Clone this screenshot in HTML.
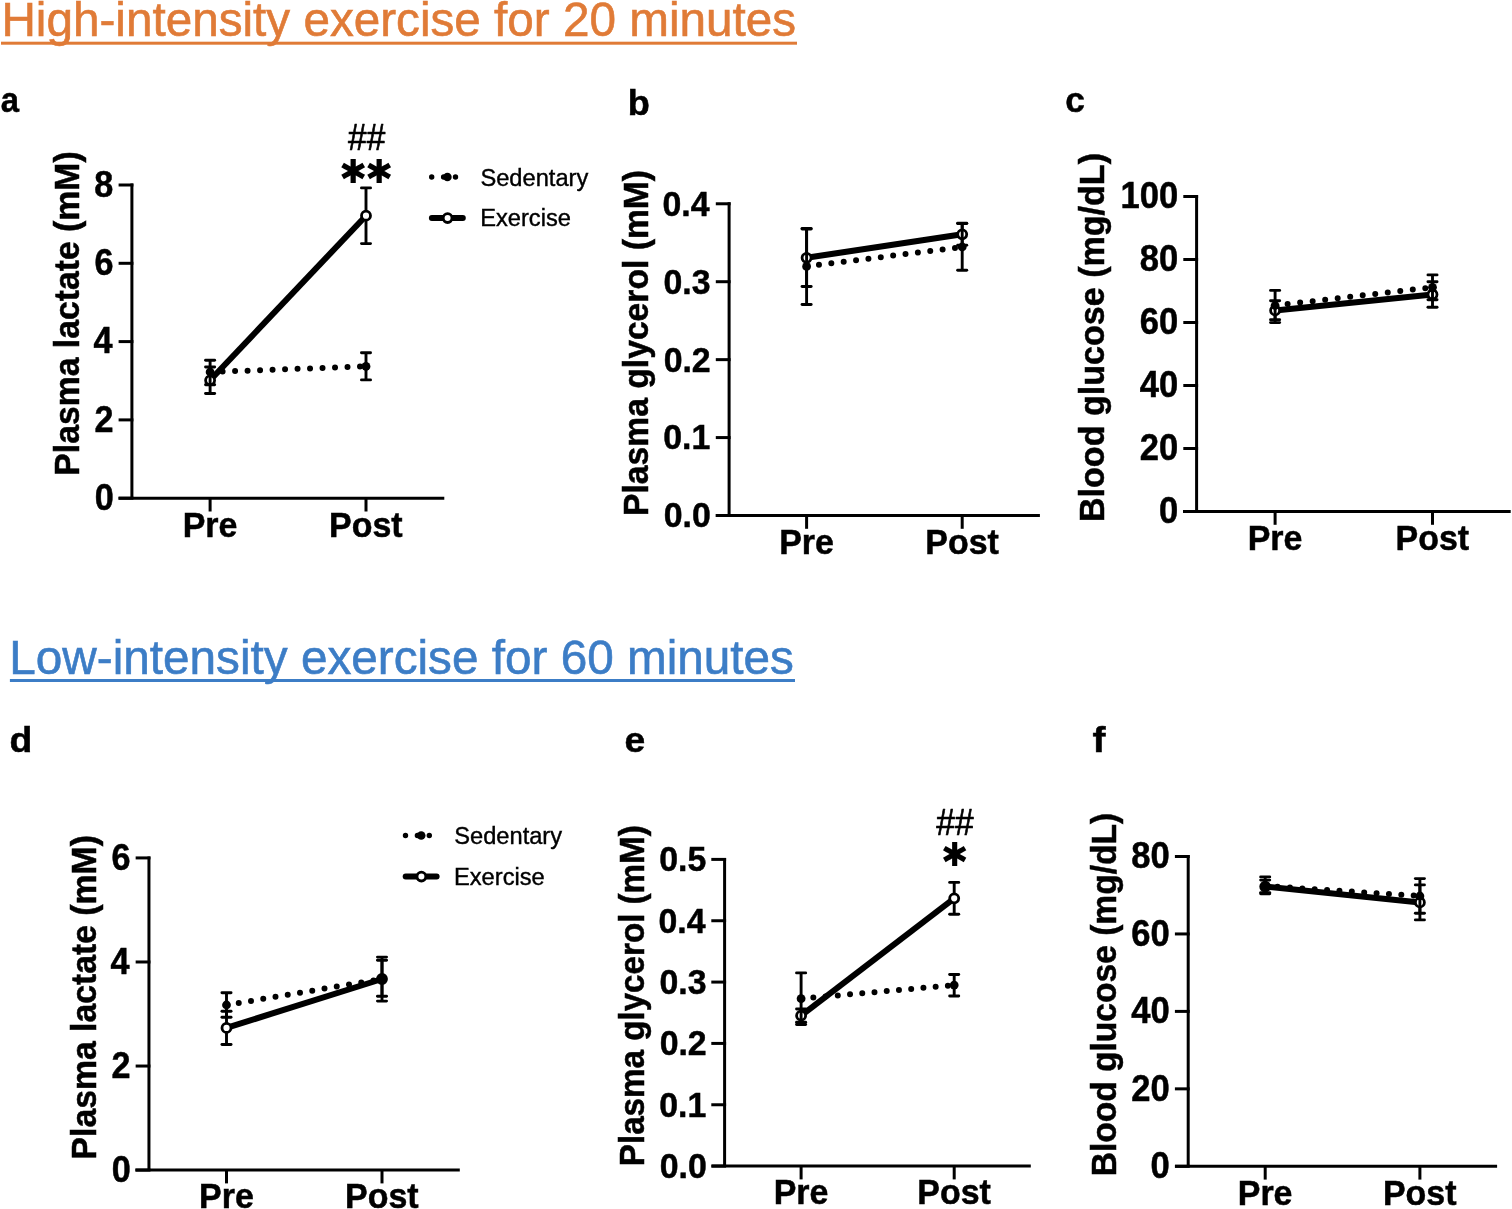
<!DOCTYPE html><html><head><meta charset="utf-8"><title>Exercise figure</title>
<style>html,body{margin:0;padding:0;background:#fff;}svg{display:block;}text{font-family:'Liberation Sans', Arial, Helvetica, sans-serif;}</style></head><body>
<svg width="1512" height="1209" viewBox="0 0 1512 1209">
<rect width="1512" height="1209" fill="#fff"/>
<text transform="translate(1.39 36) scale(0.9811 1)" font-size="48.6" font-weight="normal" fill="#E07B37" stroke="#E07B37" stroke-width="0.6">High-intensity exercise for 20 minutes</text>
<rect x="1" y="41.7" width="796" height="3" fill="#E07B37"/>
<text transform="translate(9.29 674) scale(0.9817 1)" font-size="48.6" font-weight="normal" fill="#3C7DC6" stroke="#3C7DC6" stroke-width="0.6">Low-intensity exercise for 60 minutes</text>
<rect x="9.9" y="679" width="785.1" height="3" fill="#3C7DC6"/>
<line x1="131.9" y1="183.5" x2="131.9" y2="498.2" stroke="#000" stroke-width="3" stroke-linecap="butt" />
<line x1="118.6" y1="498.2" x2="133.4" y2="498.2" stroke="#000" stroke-width="3" stroke-linecap="butt" />
<text transform="translate(94.63 510.09) scale(0.9500 1)" font-size="36" font-weight="bold" fill="#000" stroke="#000" stroke-width="0.5">0</text>
<line x1="118.6" y1="419.9" x2="133.4" y2="419.9" stroke="#000" stroke-width="3" stroke-linecap="butt" />
<text transform="translate(94.6 431.79) scale(0.9500 1)" font-size="36" font-weight="bold" fill="#000" stroke="#000" stroke-width="0.5">2</text>
<line x1="118.6" y1="341.6" x2="133.4" y2="341.6" stroke="#000" stroke-width="3" stroke-linecap="butt" />
<text transform="translate(93.41 353.49) scale(0.9500 1)" font-size="36" font-weight="bold" fill="#000" stroke="#000" stroke-width="0.5">4</text>
<line x1="118.6" y1="263.3" x2="133.4" y2="263.3" stroke="#000" stroke-width="3" stroke-linecap="butt" />
<text transform="translate(94.47 275.19) scale(0.9500 1)" font-size="36" font-weight="bold" fill="#000" stroke="#000" stroke-width="0.5">6</text>
<line x1="118.6" y1="185" x2="133.4" y2="185" stroke="#000" stroke-width="3" stroke-linecap="butt" />
<text transform="translate(94.28 196.89) scale(0.9500 1)" font-size="36" font-weight="bold" fill="#000" stroke="#000" stroke-width="0.5">8</text>
<line x1="118.5" y1="498.2" x2="444.3" y2="498.2" stroke="#000" stroke-width="3" stroke-linecap="butt" />
<line x1="210.1" y1="498.2" x2="210.1" y2="511.5" stroke="#000" stroke-width="3" stroke-linecap="butt" />
<line x1="366" y1="498.2" x2="366" y2="511.5" stroke="#000" stroke-width="3" stroke-linecap="butt" />
<text transform="translate(182.67 536.55) scale(0.9900 1)" font-size="34.3" font-weight="bold" fill="#000" stroke="#000" stroke-width="0.5">Pre</text>
<text transform="translate(329.08 536.55) scale(0.9900 1)" font-size="34.3" font-weight="bold" fill="#000" stroke="#000" stroke-width="0.5">Post</text>
<text transform="translate(78.95 475.71) rotate(-90) scale(0.9623 1)" font-size="35.08" font-weight="bold" stroke="#000" stroke-width="0.5">Plasma lactate (mM)</text>
<text transform="translate(0.79 111.75) scale(0.9296 1)" font-size="35.31" font-weight="bold" fill="#000" stroke="#000" stroke-width="0.5">a</text>
<line x1="210.1" y1="367" x2="210.1" y2="393.5" stroke="#000" stroke-width="2.9" stroke-linecap="butt" />
<line x1="205.55" y1="367" x2="214.65" y2="367" stroke="#000" stroke-width="2.9" stroke-linecap="round" />
<line x1="205.55" y1="393.5" x2="214.65" y2="393.5" stroke="#000" stroke-width="2.9" stroke-linecap="round" />
<line x1="366" y1="187.9" x2="366" y2="243.6" stroke="#000" stroke-width="2.9" stroke-linecap="butt" />
<line x1="361.45" y1="187.9" x2="370.55" y2="187.9" stroke="#000" stroke-width="2.9" stroke-linecap="round" />
<line x1="361.45" y1="243.6" x2="370.55" y2="243.6" stroke="#000" stroke-width="2.9" stroke-linecap="round" />
<line x1="210.1" y1="380.3" x2="366" y2="215.7" stroke="#000" stroke-width="6" stroke-linecap="butt" />
<circle cx="210.1" cy="380.3" r="4.5" fill="#fff" stroke="#000" stroke-width="2.8"/>
<circle cx="366" cy="215.7" r="4.5" fill="#fff" stroke="#000" stroke-width="2.8"/>
<line x1="210.1" y1="360.3" x2="210.1" y2="384.8" stroke="#000" stroke-width="2.9" stroke-linecap="butt" />
<line x1="205.55" y1="360.3" x2="214.65" y2="360.3" stroke="#000" stroke-width="2.9" stroke-linecap="round" />
<line x1="205.55" y1="384.8" x2="214.65" y2="384.8" stroke="#000" stroke-width="2.9" stroke-linecap="round" />
<line x1="366" y1="352.8" x2="366" y2="379.9" stroke="#000" stroke-width="2.9" stroke-linecap="butt" />
<line x1="361.45" y1="352.8" x2="370.55" y2="352.8" stroke="#000" stroke-width="2.9" stroke-linecap="round" />
<line x1="361.45" y1="379.9" x2="370.55" y2="379.9" stroke="#000" stroke-width="2.9" stroke-linecap="round" />
<line x1="210.1" y1="372" x2="366" y2="366.4" stroke="#000" stroke-width="6.0" stroke-linecap="round" stroke-dasharray="0 12.5"/>
<circle cx="210.1" cy="372" r="4.4" fill="#000"/>
<circle cx="366" cy="366.4" r="4.4" fill="#000"/>
<line x1="729.1" y1="202.3" x2="729.1" y2="515.5" stroke="#000" stroke-width="3" stroke-linecap="butt" />
<line x1="715.8" y1="515.5" x2="730.6" y2="515.5" stroke="#000" stroke-width="3" stroke-linecap="butt" />
<text transform="translate(663.7 527.39) scale(0.9400 1)" font-size="36" font-weight="bold" fill="#000" stroke="#000" stroke-width="0.5">0.0</text>
<line x1="715.8" y1="437.57" x2="730.6" y2="437.57" stroke="#000" stroke-width="3" stroke-linecap="butt" />
<text transform="translate(663.25 449.46) scale(0.9400 1)" font-size="36" font-weight="bold" fill="#000" stroke="#000" stroke-width="0.5">0.1</text>
<line x1="715.8" y1="359.64" x2="730.6" y2="359.64" stroke="#000" stroke-width="3" stroke-linecap="butt" />
<text transform="translate(663.66 371.53) scale(0.9400 1)" font-size="36" font-weight="bold" fill="#000" stroke="#000" stroke-width="0.5">0.2</text>
<line x1="715.8" y1="281.71" x2="730.6" y2="281.71" stroke="#000" stroke-width="3" stroke-linecap="butt" />
<text transform="translate(663.53 293.6) scale(0.9400 1)" font-size="36" font-weight="bold" fill="#000" stroke="#000" stroke-width="0.5">0.3</text>
<line x1="715.8" y1="203.78" x2="730.6" y2="203.78" stroke="#000" stroke-width="3" stroke-linecap="butt" />
<text transform="translate(662.49 215.67) scale(0.9400 1)" font-size="36" font-weight="bold" fill="#000" stroke="#000" stroke-width="0.5">0.4</text>
<line x1="715.8" y1="515.5" x2="1039.9" y2="515.5" stroke="#000" stroke-width="3" stroke-linecap="butt" />
<line x1="806.6" y1="515.5" x2="806.6" y2="528.8" stroke="#000" stroke-width="3" stroke-linecap="butt" />
<line x1="962.2" y1="515.5" x2="962.2" y2="528.8" stroke="#000" stroke-width="3" stroke-linecap="butt" />
<text transform="translate(779.17 553.85) scale(0.9900 1)" font-size="34.3" font-weight="bold" fill="#000" stroke="#000" stroke-width="0.5">Pre</text>
<text transform="translate(925.28 553.85) scale(0.9900 1)" font-size="34.3" font-weight="bold" fill="#000" stroke="#000" stroke-width="0.5">Post</text>
<text transform="translate(647.65 516) rotate(-90) scale(0.9656 1)" font-size="34.88" font-weight="bold" stroke="#000" stroke-width="0.5">Plasma glycerol (mM)</text>
<text transform="translate(627.67 114.55) scale(1.0467 1)" font-size="34.51" font-weight="bold" fill="#000" stroke="#000" stroke-width="0.5">b</text>
<line x1="806.6" y1="229.1" x2="806.6" y2="286.5" stroke="#000" stroke-width="2.9" stroke-linecap="butt" />
<line x1="802.05" y1="229.1" x2="811.15" y2="229.1" stroke="#000" stroke-width="2.9" stroke-linecap="round" />
<line x1="802.05" y1="286.5" x2="811.15" y2="286.5" stroke="#000" stroke-width="2.9" stroke-linecap="round" />
<line x1="962.2" y1="223.3" x2="962.2" y2="245.3" stroke="#000" stroke-width="2.9" stroke-linecap="butt" />
<line x1="957.65" y1="223.3" x2="966.75" y2="223.3" stroke="#000" stroke-width="2.9" stroke-linecap="round" />
<line x1="957.65" y1="245.3" x2="966.75" y2="245.3" stroke="#000" stroke-width="2.9" stroke-linecap="round" />
<line x1="806.6" y1="257.8" x2="962.2" y2="234.3" stroke="#000" stroke-width="6" stroke-linecap="butt" />
<circle cx="806.6" cy="257.8" r="4.5" fill="#fff" stroke="#000" stroke-width="2.8"/>
<circle cx="962.2" cy="234.3" r="4.5" fill="#fff" stroke="#000" stroke-width="2.8"/>
<line x1="806.6" y1="228.4" x2="806.6" y2="304.5" stroke="#000" stroke-width="2.9" stroke-linecap="butt" />
<line x1="802.05" y1="228.4" x2="811.15" y2="228.4" stroke="#000" stroke-width="2.9" stroke-linecap="round" />
<line x1="802.05" y1="304.5" x2="811.15" y2="304.5" stroke="#000" stroke-width="2.9" stroke-linecap="round" />
<line x1="962.2" y1="223.6" x2="962.2" y2="270.3" stroke="#000" stroke-width="2.9" stroke-linecap="butt" />
<line x1="957.65" y1="223.6" x2="966.75" y2="223.6" stroke="#000" stroke-width="2.9" stroke-linecap="round" />
<line x1="957.65" y1="270.3" x2="966.75" y2="270.3" stroke="#000" stroke-width="2.9" stroke-linecap="round" />
<line x1="806.6" y1="266.4" x2="962.2" y2="247" stroke="#000" stroke-width="6.0" stroke-linecap="round" stroke-dasharray="0 12.46"/>
<circle cx="806.6" cy="266.4" r="4.4" fill="#000"/>
<circle cx="962.2" cy="247" r="4.4" fill="#000"/>
<line x1="1196.6" y1="195" x2="1196.6" y2="511.5" stroke="#000" stroke-width="3" stroke-linecap="butt" />
<line x1="1183.3" y1="511.5" x2="1198.1" y2="511.5" stroke="#000" stroke-width="3" stroke-linecap="butt" />
<text transform="translate(1159.05 523.39) scale(0.9600 1)" font-size="36" font-weight="bold" fill="#000" stroke="#000" stroke-width="0.5">0</text>
<line x1="1183.3" y1="448.5" x2="1198.1" y2="448.5" stroke="#000" stroke-width="3" stroke-linecap="butt" />
<text transform="translate(1139.83 460.39) scale(0.9600 1)" font-size="36" font-weight="bold" fill="#000" stroke="#000" stroke-width="0.5">20</text>
<line x1="1183.3" y1="385.5" x2="1198.1" y2="385.5" stroke="#000" stroke-width="3" stroke-linecap="butt" />
<text transform="translate(1139.83 397.39) scale(0.9600 1)" font-size="36" font-weight="bold" fill="#000" stroke="#000" stroke-width="0.5">40</text>
<line x1="1183.3" y1="322.5" x2="1198.1" y2="322.5" stroke="#000" stroke-width="3" stroke-linecap="butt" />
<text transform="translate(1139.83 334.39) scale(0.9600 1)" font-size="36" font-weight="bold" fill="#000" stroke="#000" stroke-width="0.5">60</text>
<line x1="1183.3" y1="259.5" x2="1198.1" y2="259.5" stroke="#000" stroke-width="3" stroke-linecap="butt" />
<text transform="translate(1139.83 271.39) scale(0.9600 1)" font-size="36" font-weight="bold" fill="#000" stroke="#000" stroke-width="0.5">80</text>
<line x1="1183.3" y1="196.5" x2="1198.1" y2="196.5" stroke="#000" stroke-width="3" stroke-linecap="butt" />
<text transform="translate(1120.61 208.39) scale(0.9600 1)" font-size="36" font-weight="bold" fill="#000" stroke="#000" stroke-width="0.5">100</text>
<line x1="1183" y1="511.5" x2="1510.7" y2="511.5" stroke="#000" stroke-width="3" stroke-linecap="butt" />
<line x1="1275.1" y1="511.5" x2="1275.1" y2="524.8" stroke="#000" stroke-width="3" stroke-linecap="butt" />
<line x1="1432.5" y1="511.5" x2="1432.5" y2="524.8" stroke="#000" stroke-width="3" stroke-linecap="butt" />
<text transform="translate(1247.67 549.85) scale(0.9900 1)" font-size="34.3" font-weight="bold" fill="#000" stroke="#000" stroke-width="0.5">Pre</text>
<text transform="translate(1395.58 549.85) scale(0.9900 1)" font-size="34.3" font-weight="bold" fill="#000" stroke="#000" stroke-width="0.5">Post</text>
<text transform="translate(1104.25 522.03) rotate(-90) scale(0.9686 1)" font-size="35.18" font-weight="bold" stroke="#000" stroke-width="0.5">Blood glucose (mg/dL)</text>
<text transform="translate(1065.27 111.55) scale(0.9987 1)" font-size="35.31" font-weight="bold" fill="#000" stroke="#000" stroke-width="0.5">c</text>
<line x1="1275.1" y1="300.8" x2="1275.1" y2="322.6" stroke="#000" stroke-width="2.9" stroke-linecap="butt" />
<line x1="1270.55" y1="300.8" x2="1279.65" y2="300.8" stroke="#000" stroke-width="2.9" stroke-linecap="round" />
<line x1="1270.55" y1="322.6" x2="1279.65" y2="322.6" stroke="#000" stroke-width="2.9" stroke-linecap="round" />
<line x1="1432.5" y1="281.8" x2="1432.5" y2="307.3" stroke="#000" stroke-width="2.9" stroke-linecap="butt" />
<line x1="1427.95" y1="281.8" x2="1437.05" y2="281.8" stroke="#000" stroke-width="2.9" stroke-linecap="round" />
<line x1="1427.95" y1="307.3" x2="1437.05" y2="307.3" stroke="#000" stroke-width="2.9" stroke-linecap="round" />
<line x1="1275.1" y1="310.4" x2="1432.5" y2="294.5" stroke="#000" stroke-width="6" stroke-linecap="butt" />
<circle cx="1275.1" cy="310.4" r="4.5" fill="#fff" stroke="#000" stroke-width="2.8"/>
<circle cx="1432.5" cy="294.5" r="4.5" fill="#fff" stroke="#000" stroke-width="2.8"/>
<line x1="1275.1" y1="290.4" x2="1275.1" y2="319.7" stroke="#000" stroke-width="2.9" stroke-linecap="butt" />
<line x1="1270.55" y1="290.4" x2="1279.65" y2="290.4" stroke="#000" stroke-width="2.9" stroke-linecap="round" />
<line x1="1270.55" y1="319.7" x2="1279.65" y2="319.7" stroke="#000" stroke-width="2.9" stroke-linecap="round" />
<line x1="1432.5" y1="274.9" x2="1432.5" y2="299.7" stroke="#000" stroke-width="2.9" stroke-linecap="butt" />
<line x1="1427.95" y1="274.9" x2="1437.05" y2="274.9" stroke="#000" stroke-width="2.9" stroke-linecap="round" />
<line x1="1427.95" y1="299.7" x2="1437.05" y2="299.7" stroke="#000" stroke-width="2.9" stroke-linecap="round" />
<line x1="1275.1" y1="305.5" x2="1432.5" y2="287.3" stroke="#000" stroke-width="6.0" stroke-linecap="round" stroke-dasharray="0 12.6"/>
<circle cx="1275.1" cy="305.5" r="4.4" fill="#000"/>
<circle cx="1432.5" cy="287.3" r="4.4" fill="#000"/>
<line x1="148.95" y1="856.4" x2="148.95" y2="1170.1" stroke="#000" stroke-width="3" stroke-linecap="butt" />
<line x1="135.65" y1="1170.1" x2="150.45" y2="1170.1" stroke="#000" stroke-width="3" stroke-linecap="butt" />
<text transform="translate(111.63 1181.99) scale(0.9500 1)" font-size="36" font-weight="bold" fill="#000" stroke="#000" stroke-width="0.5">0</text>
<line x1="135.65" y1="1066.04" x2="150.45" y2="1066.04" stroke="#000" stroke-width="3" stroke-linecap="butt" />
<text transform="translate(111.6 1077.93) scale(0.9500 1)" font-size="36" font-weight="bold" fill="#000" stroke="#000" stroke-width="0.5">2</text>
<line x1="135.65" y1="961.98" x2="150.45" y2="961.98" stroke="#000" stroke-width="3" stroke-linecap="butt" />
<text transform="translate(110.41 973.87) scale(0.9500 1)" font-size="36" font-weight="bold" fill="#000" stroke="#000" stroke-width="0.5">4</text>
<line x1="135.65" y1="857.92" x2="150.45" y2="857.92" stroke="#000" stroke-width="3" stroke-linecap="butt" />
<text transform="translate(111.47 869.81) scale(0.9500 1)" font-size="36" font-weight="bold" fill="#000" stroke="#000" stroke-width="0.5">6</text>
<line x1="135.3" y1="1170.1" x2="459.8" y2="1170.1" stroke="#000" stroke-width="3" stroke-linecap="butt" />
<line x1="226.5" y1="1170.1" x2="226.5" y2="1183.4" stroke="#000" stroke-width="3" stroke-linecap="butt" />
<line x1="382" y1="1170.1" x2="382" y2="1183.4" stroke="#000" stroke-width="3" stroke-linecap="butt" />
<text transform="translate(199.07 1208.45) scale(0.9900 1)" font-size="34.3" font-weight="bold" fill="#000" stroke="#000" stroke-width="0.5">Pre</text>
<text transform="translate(345.08 1208.45) scale(0.9900 1)" font-size="34.3" font-weight="bold" fill="#000" stroke="#000" stroke-width="0.5">Post</text>
<text transform="translate(96.35 1159.41) rotate(-90) scale(0.9617 1)" font-size="35.08" font-weight="bold" stroke="#000" stroke-width="0.5">Plasma lactate (mM)</text>
<text transform="translate(9.62 751.75) scale(1.0567 1)" font-size="35.31" font-weight="bold" fill="#000" stroke="#000" stroke-width="0.5">d</text>
<line x1="226.5" y1="1011.3" x2="226.5" y2="1044.5" stroke="#000" stroke-width="2.9" stroke-linecap="butt" />
<line x1="221.95" y1="1011.3" x2="231.05" y2="1011.3" stroke="#000" stroke-width="2.9" stroke-linecap="round" />
<line x1="221.95" y1="1044.5" x2="231.05" y2="1044.5" stroke="#000" stroke-width="2.9" stroke-linecap="round" />
<line x1="382" y1="960.3" x2="382" y2="996.2" stroke="#000" stroke-width="2.9" stroke-linecap="butt" />
<line x1="377.45" y1="960.3" x2="386.55" y2="960.3" stroke="#000" stroke-width="2.9" stroke-linecap="round" />
<line x1="377.45" y1="996.2" x2="386.55" y2="996.2" stroke="#000" stroke-width="2.9" stroke-linecap="round" />
<line x1="226.5" y1="1027.9" x2="382" y2="979" stroke="#000" stroke-width="6" stroke-linecap="butt" />
<circle cx="226.5" cy="1027.9" r="4.5" fill="#fff" stroke="#000" stroke-width="2.8"/>
<circle cx="382" cy="979" r="4.5" fill="#fff" stroke="#000" stroke-width="2.8"/>
<line x1="226.5" y1="992.7" x2="226.5" y2="1017.3" stroke="#000" stroke-width="2.9" stroke-linecap="butt" />
<line x1="221.95" y1="992.7" x2="231.05" y2="992.7" stroke="#000" stroke-width="2.9" stroke-linecap="round" />
<line x1="221.95" y1="1017.3" x2="231.05" y2="1017.3" stroke="#000" stroke-width="2.9" stroke-linecap="round" />
<line x1="382" y1="957.1" x2="382" y2="1001.1" stroke="#000" stroke-width="2.9" stroke-linecap="butt" />
<line x1="377.45" y1="957.1" x2="386.55" y2="957.1" stroke="#000" stroke-width="2.9" stroke-linecap="round" />
<line x1="377.45" y1="1001.1" x2="386.55" y2="1001.1" stroke="#000" stroke-width="2.9" stroke-linecap="round" />
<line x1="226.5" y1="1005" x2="382" y2="979" stroke="#000" stroke-width="6.0" stroke-linecap="round" stroke-dasharray="0 12.42"/>
<circle cx="226.5" cy="1005" r="4.4" fill="#000"/>
<circle cx="382" cy="979" r="4.4" fill="#000"/>
<line x1="724.6" y1="857.9" x2="724.6" y2="1166.1" stroke="#000" stroke-width="3" stroke-linecap="butt" />
<line x1="711.3" y1="1166.1" x2="726.1" y2="1166.1" stroke="#000" stroke-width="3" stroke-linecap="butt" />
<text transform="translate(659.7 1177.99) scale(0.9400 1)" font-size="36" font-weight="bold" fill="#000" stroke="#000" stroke-width="0.5">0.0</text>
<line x1="711.3" y1="1104.76" x2="726.1" y2="1104.76" stroke="#000" stroke-width="3" stroke-linecap="butt" />
<text transform="translate(659.25 1116.65) scale(0.9400 1)" font-size="36" font-weight="bold" fill="#000" stroke="#000" stroke-width="0.5">0.1</text>
<line x1="711.3" y1="1043.42" x2="726.1" y2="1043.42" stroke="#000" stroke-width="3" stroke-linecap="butt" />
<text transform="translate(659.66 1055.31) scale(0.9400 1)" font-size="36" font-weight="bold" fill="#000" stroke="#000" stroke-width="0.5">0.2</text>
<line x1="711.3" y1="982.08" x2="726.1" y2="982.08" stroke="#000" stroke-width="3" stroke-linecap="butt" />
<text transform="translate(659.53 993.97) scale(0.9400 1)" font-size="36" font-weight="bold" fill="#000" stroke="#000" stroke-width="0.5">0.3</text>
<line x1="711.3" y1="920.74" x2="726.1" y2="920.74" stroke="#000" stroke-width="3" stroke-linecap="butt" />
<text transform="translate(658.49 932.63) scale(0.9400 1)" font-size="36" font-weight="bold" fill="#000" stroke="#000" stroke-width="0.5">0.4</text>
<line x1="711.3" y1="859.4" x2="726.1" y2="859.4" stroke="#000" stroke-width="3" stroke-linecap="butt" />
<text transform="translate(659.25 871.29) scale(0.9400 1)" font-size="36" font-weight="bold" fill="#000" stroke="#000" stroke-width="0.5">0.5</text>
<line x1="711.6" y1="1166.1" x2="1030.8" y2="1166.1" stroke="#000" stroke-width="3" stroke-linecap="butt" />
<line x1="801.1" y1="1166.1" x2="801.1" y2="1179.4" stroke="#000" stroke-width="3" stroke-linecap="butt" />
<line x1="954.2" y1="1166.1" x2="954.2" y2="1179.4" stroke="#000" stroke-width="3" stroke-linecap="butt" />
<text transform="translate(773.67 1204.45) scale(0.9900 1)" font-size="34.3" font-weight="bold" fill="#000" stroke="#000" stroke-width="0.5">Pre</text>
<text transform="translate(917.28 1204.45) scale(0.9900 1)" font-size="34.3" font-weight="bold" fill="#000" stroke="#000" stroke-width="0.5">Post</text>
<text transform="translate(644.15 1166.17) rotate(-90) scale(0.9540 1)" font-size="34.78" font-weight="bold" stroke="#000" stroke-width="0.5">Plasma glycerol (mM)</text>
<text transform="translate(624.59 751.65) scale(1.0558 1)" font-size="35.31" font-weight="bold" fill="#000" stroke="#000" stroke-width="0.5">e</text>
<line x1="801.1" y1="1009" x2="801.1" y2="1022.2" stroke="#000" stroke-width="2.9" stroke-linecap="butt" />
<line x1="796.55" y1="1009" x2="805.65" y2="1009" stroke="#000" stroke-width="2.9" stroke-linecap="round" />
<line x1="796.55" y1="1022.2" x2="805.65" y2="1022.2" stroke="#000" stroke-width="2.9" stroke-linecap="round" />
<line x1="954.2" y1="882.4" x2="954.2" y2="914.2" stroke="#000" stroke-width="2.9" stroke-linecap="butt" />
<line x1="949.65" y1="882.4" x2="958.75" y2="882.4" stroke="#000" stroke-width="2.9" stroke-linecap="round" />
<line x1="949.65" y1="914.2" x2="958.75" y2="914.2" stroke="#000" stroke-width="2.9" stroke-linecap="round" />
<line x1="801.1" y1="1015.6" x2="954.2" y2="898.3" stroke="#000" stroke-width="6" stroke-linecap="butt" />
<circle cx="801.1" cy="1015.6" r="4.5" fill="#fff" stroke="#000" stroke-width="2.8"/>
<circle cx="954.2" cy="898.3" r="4.5" fill="#fff" stroke="#000" stroke-width="2.8"/>
<line x1="801.1" y1="972.9" x2="801.1" y2="1024.5" stroke="#000" stroke-width="2.9" stroke-linecap="butt" />
<line x1="796.55" y1="972.9" x2="805.65" y2="972.9" stroke="#000" stroke-width="2.9" stroke-linecap="round" />
<line x1="796.55" y1="1024.5" x2="805.65" y2="1024.5" stroke="#000" stroke-width="2.9" stroke-linecap="round" />
<line x1="954.2" y1="974.5" x2="954.2" y2="996" stroke="#000" stroke-width="2.9" stroke-linecap="butt" />
<line x1="949.65" y1="974.5" x2="958.75" y2="974.5" stroke="#000" stroke-width="2.9" stroke-linecap="round" />
<line x1="949.65" y1="996" x2="958.75" y2="996" stroke="#000" stroke-width="2.9" stroke-linecap="round" />
<line x1="801.1" y1="998.7" x2="954.2" y2="985.1" stroke="#000" stroke-width="6.0" stroke-linecap="round" stroke-dasharray="0 12.28"/>
<circle cx="801.1" cy="998.7" r="4.4" fill="#000"/>
<circle cx="954.2" cy="985.1" r="4.4" fill="#000"/>
<line x1="1188.2" y1="855" x2="1188.2" y2="1166.3" stroke="#000" stroke-width="3" stroke-linecap="butt" />
<line x1="1174.9" y1="1166.3" x2="1189.7" y2="1166.3" stroke="#000" stroke-width="3" stroke-linecap="butt" />
<text transform="translate(1150.55 1178.19) scale(0.9600 1)" font-size="36" font-weight="bold" fill="#000" stroke="#000" stroke-width="0.5">0</text>
<line x1="1174.9" y1="1088.85" x2="1189.7" y2="1088.85" stroke="#000" stroke-width="3" stroke-linecap="butt" />
<text transform="translate(1131.33 1100.74) scale(0.9600 1)" font-size="36" font-weight="bold" fill="#000" stroke="#000" stroke-width="0.5">20</text>
<line x1="1174.9" y1="1011.4" x2="1189.7" y2="1011.4" stroke="#000" stroke-width="3" stroke-linecap="butt" />
<text transform="translate(1131.33 1023.29) scale(0.9600 1)" font-size="36" font-weight="bold" fill="#000" stroke="#000" stroke-width="0.5">40</text>
<line x1="1174.9" y1="933.95" x2="1189.7" y2="933.95" stroke="#000" stroke-width="3" stroke-linecap="butt" />
<text transform="translate(1131.33 945.84) scale(0.9600 1)" font-size="36" font-weight="bold" fill="#000" stroke="#000" stroke-width="0.5">60</text>
<line x1="1174.9" y1="856.5" x2="1189.7" y2="856.5" stroke="#000" stroke-width="3" stroke-linecap="butt" />
<text transform="translate(1131.33 868.39) scale(0.9600 1)" font-size="36" font-weight="bold" fill="#000" stroke="#000" stroke-width="0.5">80</text>
<line x1="1175" y1="1166.3" x2="1497.1" y2="1166.3" stroke="#000" stroke-width="3" stroke-linecap="butt" />
<line x1="1265.2" y1="1166.3" x2="1265.2" y2="1179.6" stroke="#000" stroke-width="3" stroke-linecap="butt" />
<line x1="1419.9" y1="1166.3" x2="1419.9" y2="1179.6" stroke="#000" stroke-width="3" stroke-linecap="butt" />
<text transform="translate(1237.77 1204.65) scale(0.9900 1)" font-size="34.3" font-weight="bold" fill="#000" stroke="#000" stroke-width="0.5">Pre</text>
<text transform="translate(1382.98 1204.65) scale(0.9900 1)" font-size="34.3" font-weight="bold" fill="#000" stroke="#000" stroke-width="0.5">Post</text>
<text transform="translate(1116.05 1176.29) rotate(-90) scale(0.9678 1)" font-size="34.68" font-weight="bold" stroke="#000" stroke-width="0.5">Blood glucose (mg/dL)</text>
<text transform="translate(1092.38 751.55) scale(1.1049 1)" font-size="35.31" font-weight="bold" fill="#000" stroke="#000" stroke-width="0.5">f</text>
<line x1="1265.2" y1="880.1" x2="1265.2" y2="892.6" stroke="#000" stroke-width="2.9" stroke-linecap="butt" />
<line x1="1260.65" y1="880.1" x2="1269.75" y2="880.1" stroke="#000" stroke-width="2.9" stroke-linecap="round" />
<line x1="1260.65" y1="892.6" x2="1269.75" y2="892.6" stroke="#000" stroke-width="2.9" stroke-linecap="round" />
<line x1="1419.9" y1="884.9" x2="1419.9" y2="919.9" stroke="#000" stroke-width="2.9" stroke-linecap="butt" />
<line x1="1415.35" y1="884.9" x2="1424.45" y2="884.9" stroke="#000" stroke-width="2.9" stroke-linecap="round" />
<line x1="1415.35" y1="919.9" x2="1424.45" y2="919.9" stroke="#000" stroke-width="2.9" stroke-linecap="round" />
<line x1="1265.2" y1="886.6" x2="1419.9" y2="902.4" stroke="#000" stroke-width="6" stroke-linecap="butt" />
<circle cx="1265.2" cy="886.6" r="4.5" fill="#fff" stroke="#000" stroke-width="2.8"/>
<circle cx="1419.9" cy="902.4" r="4.5" fill="#fff" stroke="#000" stroke-width="2.8"/>
<line x1="1265.2" y1="876.9" x2="1265.2" y2="893.8" stroke="#000" stroke-width="2.9" stroke-linecap="butt" />
<line x1="1260.65" y1="876.9" x2="1269.75" y2="876.9" stroke="#000" stroke-width="2.9" stroke-linecap="round" />
<line x1="1260.65" y1="893.8" x2="1269.75" y2="893.8" stroke="#000" stroke-width="2.9" stroke-linecap="round" />
<line x1="1419.9" y1="878.6" x2="1419.9" y2="913.3" stroke="#000" stroke-width="2.9" stroke-linecap="butt" />
<line x1="1415.35" y1="878.6" x2="1424.45" y2="878.6" stroke="#000" stroke-width="2.9" stroke-linecap="round" />
<line x1="1415.35" y1="913.3" x2="1424.45" y2="913.3" stroke="#000" stroke-width="2.9" stroke-linecap="round" />
<line x1="1265.2" y1="886" x2="1419.9" y2="896" stroke="#000" stroke-width="6.0" stroke-linecap="round" stroke-dasharray="0 12.4"/>
<circle cx="1265.2" cy="886" r="4.4" fill="#000"/>
<circle cx="1419.9" cy="896" r="4.4" fill="#000"/>
<line x1="431.7" y1="177" x2="458" y2="177" stroke="#000" stroke-width="5.4" stroke-linecap="round" stroke-dasharray="0 11.9"/>
<circle cx="447.4" cy="177" r="4.3" fill="#000"/>
<line x1="431.9" y1="218.1" x2="462.8" y2="218.1" stroke="#000" stroke-width="6" stroke-linecap="round"/>
<circle cx="447.6" cy="218.1" r="4.4" fill="#fff" stroke="#000" stroke-width="2.8"/>
<text transform="translate(480.42 185.7) scale(0.9783 1)" font-size="24.2" font-weight="normal" fill="#000" stroke="#000" stroke-width="0.4">Sedentary</text>
<text transform="translate(480.16 226.4) scale(0.9796 1)" font-size="24.2" font-weight="normal" fill="#000" stroke="#000" stroke-width="0.4">Exercise</text>
<line x1="405.5" y1="835.5" x2="431.8" y2="835.5" stroke="#000" stroke-width="5.4" stroke-linecap="round" stroke-dasharray="0 11.9"/>
<circle cx="421.2" cy="835.5" r="4.3" fill="#000"/>
<line x1="405.7" y1="876.6" x2="436.6" y2="876.6" stroke="#000" stroke-width="6" stroke-linecap="round"/>
<circle cx="421.4" cy="876.6" r="4.4" fill="#fff" stroke="#000" stroke-width="2.8"/>
<text transform="translate(454.22 844.2) scale(0.9783 1)" font-size="24.2" font-weight="normal" fill="#000" stroke="#000" stroke-width="0.4">Sedentary</text>
<text transform="translate(453.96 884.9) scale(0.9796 1)" font-size="24.2" font-weight="normal" fill="#000" stroke="#000" stroke-width="0.4">Exercise</text>
<text transform="translate(348.1 149.95) scale(0.8846 1)" font-size="37.71" stroke="#000" stroke-width="0.7" stroke-linejoin="round">##</text>
<text transform="translate(339.33 182.6) scale(1.0198 1)" font-size="32.92" style="font-family:DejaVu Sans,sans-serif">✱</text>
<text transform="translate(365.13 182.6) scale(1.0198 1)" font-size="32.92" style="font-family:DejaVu Sans,sans-serif">✱</text>
<text transform="translate(936.3 835.25) scale(0.9106 1)" font-size="36.84" stroke="#000" stroke-width="0.7" stroke-linejoin="round">##</text>
<text transform="translate(940.93 865.75) scale(1.0025 1)" font-size="32.78" style="font-family:DejaVu Sans,sans-serif">✱</text>
</svg></body></html>
